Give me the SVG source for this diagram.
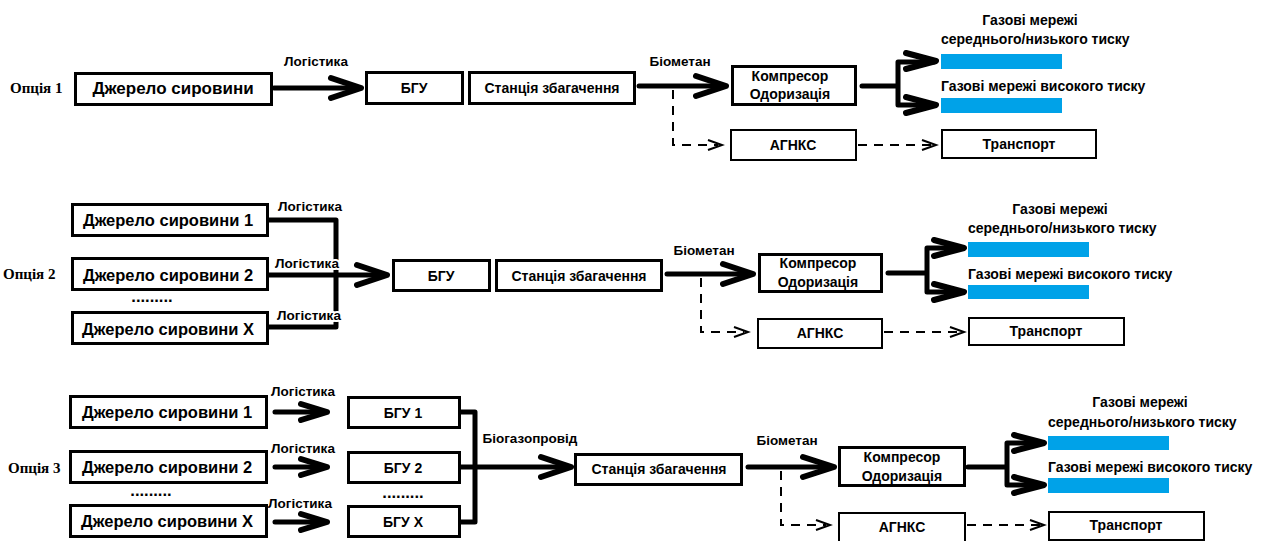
<svg xmlns="http://www.w3.org/2000/svg" width="1267" height="541" viewBox="0 0 1267 541">
<style>
.bg{fill:#fff}
.box{fill:#fff;stroke:#000;stroke-width:3}
.box2{fill:#fff;stroke:#000;stroke-width:2}
.bar{fill:#00A2E8}
.t{font-family:"Liberation Sans",Arial,sans-serif;font-weight:bold;fill:#000;text-anchor:middle}
.ts{font-family:"Liberation Sans",Arial,sans-serif;font-weight:bold;fill:#000}
.opt{font-family:"Liberation Serif","Times New Roman",serif;font-weight:bold;font-size:15px;fill:#000}
.lbl{font-family:"Liberation Sans",Arial,sans-serif;font-weight:bold;font-size:13.5px;fill:#000;text-anchor:middle}
.halo{stroke:#fff;stroke-width:4;paint-order:stroke;stroke-linejoin:round}
.big{font-size:16.5px}
.mid{font-size:14px}
.sm{font-size:14px}
.thick{fill:none;stroke:#000;stroke-width:5;stroke-linecap:round;stroke-linejoin:round}
.head{fill:none;stroke:#000;stroke-width:6;stroke-linecap:round;stroke-linejoin:round}
.dash{fill:none;stroke:#000;stroke-width:2;stroke-dasharray:9,7}
.thin{fill:none;stroke:#000;stroke-width:2;stroke-linejoin:miter}
</style>
<rect class="bg" x="0" y="0" width="1267" height="541"/>

<!-- option labels -->
<text class="opt" x="10" y="93">Опція 1</text>
<text class="opt" x="3" y="279">Опція 2</text>
<text class="opt" x="8" y="473">Опція 3</text>

<!-- connectors -->
<g id="connectors">
  <!-- option 1 -->
  <path class="thick" d="M274 88H358"/>
  <path class="head" d="M331 78L361 88L331 98"/>
  <path class="thick" d="M639 86H724"/>
  <path class="head" d="M696 76L726 86L696 96"/>
  <path class="dash" d="M673 90V145H718"/>
  <path class="thin" d="M708 140L722 145L708 150"/>
  <path class="thick" d="M862 86H898M898 86V62H934M898 86V105H934"/>
  <path class="head" d="M906 53L936 61L906 69"/>
  <path class="head" d="M906 97L936 105L906 113"/>
  <path class="dash" d="M858 145H932"/>
  <path class="thin" d="M922 140L936 145L922 150"/>

  <!-- option 2 -->
  <path class="thick" d="M269 220H336V327H269"/>
  <path class="thick" d="M269 275H384"/>
  <path class="head" d="M357 265L387 275L357 285"/>
  <path class="thick" d="M667 274H751"/>
  <path class="head" d="M723 264L753 274L723 284"/>
  <path class="dash" d="M701 278V332H744"/>
  <path class="thin" d="M734 327L748 332L734 337"/>
  <path class="thick" d="M888 273H927M927 273V248H962M927 273V292H962"/>
  <path class="head" d="M934 240L964 248L934 256"/>
  <path class="head" d="M934 284L964 292L934 300"/>
  <path class="dash" d="M884 332H960"/>
  <path class="thin" d="M950 327L964 332L950 337"/>

  <!-- option 3 -->
  <path class="thick" d="M275 412H325M275 467H325M275 522H325"/>
  <path class="head" d="M301 404L327 412L301 420"/>
  <path class="head" d="M301 459L327 467L301 475"/>
  <path class="head" d="M301 514L327 522L301 530"/>
  <path class="thick" d="M461 412H475V522H461M461 467H569"/>
  <path class="head" d="M541 457L571 467L541 477"/>
  <path class="thick" d="M748 467H832"/>
  <path class="head" d="M803 457L834 467L803 477"/>
  <path class="dash" d="M781 471V525H826"/>
  <path class="thin" d="M816 520L830 525L816 530"/>
  <path class="thick" d="M968 467H1007M1007 467V443H1042M1007 467V485H1042"/>
  <path class="head" d="M1014 435L1044 443L1014 451"/>
  <path class="head" d="M1014 477L1044 485L1014 493"/>
  <path class="dash" d="M967 525H1040"/>
  <path class="thin" d="M1030 520L1044 525L1030 530"/>
</g>

<!-- connector labels -->
<g id="labels">
  <text class="lbl" x="316" y="66">Логістика</text>
  <text class="lbl" x="680" y="66">Біометан</text>
  <text class="lbl halo" x="310" y="211">Логістика</text>
  <text class="lbl halo" x="307" y="268">Логістика</text>
  <text class="lbl halo" x="309" y="320">Логістика</text>
  <text class="lbl" x="704" y="255">Біометан</text>
  <text class="lbl" x="303" y="396">Логістика</text>
  <text class="lbl" x="303" y="453">Логістика</text>
  <text class="lbl" x="300" y="508">Логістика</text>
  <text class="lbl" x="530" y="443">Біогазопровід</text>
  <text class="lbl" x="787" y="445">Біометан</text>
</g>

<!-- OPTION 1 nodes -->
<g id="o1-src"><rect class="box" x="75.5" y="73.5" width="196" height="31"/><text class="t" x="173" y="94" font-size="17">Джерело сировини</text></g>
<g id="o1-bgu"><rect class="box" x="366.5" y="72.5" width="96" height="31"/><text class="t mid" x="414" y="93">БГУ</text></g>
<g id="o1-station"><rect class="box" x="469.5" y="72.5" width="165" height="31"/><text class="t mid" x="552" y="93">Станція збагачення</text></g>
<g id="o1-comp"><rect class="box" x="732.5" y="66.5" width="123" height="38"/><text class="t mid" x="790" y="81">Компресор</text><text class="t mid" x="790" y="99">Одоризація</text></g>
<g id="o1-agnks"><rect class="box2" x="731" y="130" width="125" height="30"/><text class="t mid" x="793" y="150">АГНКС</text></g>
<g id="o1-mid"><text class="t sm" x="1030" y="25">Газові мережі</text><text class="ts sm" x="941" y="44">середнього/низького тиску</text><rect class="bar" x="941" y="54" width="121" height="15"/></g>
<g id="o1-high"><text class="ts sm" x="941" y="91">Газові мережі високого тиску</text><rect class="bar" x="941" y="98" width="121" height="15"/></g>
<g id="o1-transport"><rect class="box2" x="942" y="130" width="154" height="28"/><text class="t sm" x="1019" y="149">Транспорт</text></g>

<!-- OPTION 2 nodes -->
<g id="o2-src1"><rect class="box" x="72.5" y="204.5" width="195" height="31"/><text class="t big" x="168" y="226">Джерело сировини 1</text></g>
<g id="o2-src2"><rect class="box" x="72.5" y="258.5" width="195" height="31"/><text class="t big" x="168" y="281">Джерело сировини 2</text></g>
<text class="t big" x="152" y="302">.........</text>
<g id="o2-srcx"><rect class="box" x="72.5" y="312.5" width="195" height="31"/><text class="t big" x="168" y="335">Джерело сировини X</text></g>
<g id="o2-bgu"><rect class="box" x="393.5" y="260.5" width="96" height="30"/><text class="t mid" x="441" y="281">БГУ</text></g>
<g id="o2-station"><rect class="box" x="496.5" y="260.5" width="165" height="30"/><text class="t mid" x="579" y="281">Станція збагачення</text></g>
<g id="o2-comp"><rect class="box" x="759.5" y="254.5" width="122" height="37"/><text class="t mid" x="818" y="268">Компресор</text><text class="t mid" x="818" y="287">Одоризація</text></g>
<g id="o2-agnks"><rect class="box2" x="758" y="319" width="124" height="29"/><text class="t mid" x="820" y="338">АГНКС</text></g>
<g id="o2-mid"><text class="t sm" x="1060" y="214">Газові мережі</text><text class="ts sm" x="968" y="233">середнього/низького тиску</text><rect class="bar" x="968" y="242" width="121" height="15"/></g>
<g id="o2-high"><text class="ts sm" x="968" y="279">Газові мережі високого тиску</text><rect class="bar" x="968" y="285" width="121" height="14"/></g>
<g id="o2-transport"><rect class="box2" x="969" y="318" width="155" height="27"/><text class="t sm" x="1046" y="336">Транспорт</text></g>

<!-- OPTION 3 nodes -->
<g id="o3-src1"><rect class="box" x="70.5" y="396.5" width="196" height="31"/><text class="t big" x="167" y="418">Джерело сировини 1</text></g>
<g id="o3-src2"><rect class="box" x="70.5" y="451.5" width="196" height="31"/><text class="t big" x="167" y="473">Джерело сировини 2</text></g>
<text class="t big" x="151" y="496">.........</text>
<g id="o3-srcx"><rect class="box" x="70.5" y="505.5" width="196" height="31"/><text class="t big" x="167" y="527">Джерело сировини X</text></g>
<g id="o3-bgu1"><rect class="box" x="348.5" y="397.5" width="111" height="30"/><text class="t mid" x="403" y="418">БГУ 1</text></g>
<g id="o3-bgu2"><rect class="box" x="348.5" y="452.5" width="111" height="30"/><text class="t mid" x="403" y="473">БГУ 2</text></g>
<text class="t big" x="403" y="498">.........</text>
<g id="o3-bgux"><rect class="box" x="348.5" y="506.5" width="111" height="30"/><text class="t mid" x="403" y="527">БГУ X</text></g>
<g id="o3-station"><rect class="box" x="575.5" y="454.5" width="166" height="30"/><text class="t mid" x="659" y="474">Станція збагачення</text></g>
<g id="o3-comp"><rect class="box" x="839.5" y="447.5" width="125" height="38"/><text class="t mid" x="902" y="462">Компресор</text><text class="t mid" x="902" y="481">Одоризація</text></g>
<g id="o3-agnks"><rect class="box2" x="839" y="513" width="126" height="32"/><text class="t mid" x="902" y="532">АГНКС</text></g>
<g id="o3-mid"><text class="t sm" x="1140" y="407">Газові мережі</text><text class="ts sm" x="1048" y="427">середнього/низького тиску</text><rect class="bar" x="1048" y="436" width="121" height="14"/></g>
<g id="o3-high"><text class="ts sm" x="1048" y="472">Газові мережі високого тиску</text><rect class="bar" x="1048" y="478" width="121" height="15"/></g>
<g id="o3-transport"><rect class="box2" x="1049" y="512" width="155" height="28"/><text class="t sm" x="1126" y="530">Транспорт</text></g>
</svg>
